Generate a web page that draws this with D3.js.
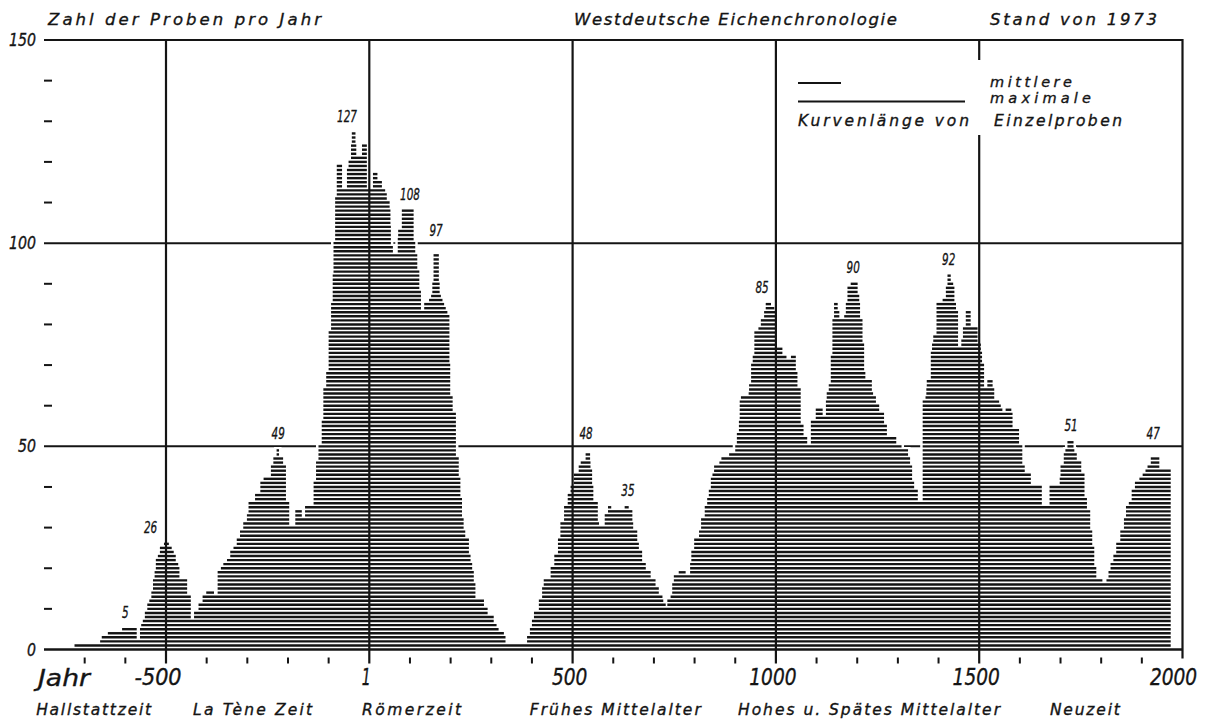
<!DOCTYPE html>
<html><head><meta charset="utf-8">
<script src="https://cdn.jsdelivr.net/npm/d3@7"></script>
<style>
body{margin:0;background:#fff}
svg{display:block}
text{font-family:'DejaVu Sans',sans-serif;font-style:italic;fill:#141414;stroke:#141414;stroke-width:0.35px}
</style>
</head><body>
<svg id="c" width="1209" height="720"></svg>
<script>
// ---- data: [start year, number of samples] steps ----
const hallstatt = [[-725,1],[-662,2],[-658,3],[-643,4],[-608,5],[-572,2],[-564,5],[-561,6],[-557,7],[-552,9],[-546,11],[-541,12],[-536,14],[-532,17],[-528,19],[-525,22],[-520,23],[-515,25],[-505,26],[-493,25],[-486,24],[-481,23],[-476,21],[-470,20],[-467,17],[-448,13],[-439,7]];
const laTene = [[-431,9],[-420,11],[-410,13],[-401,14],[-382,13],[-373,19],[-365,20],[-359,21],[-350,22],[-342,24],[-334,25],[-326,27],[-318,29],[-310,31],[-301,33],[-297,36],[-281,38],[-268,41],[-260,42],[-242,45],[-236,47],[-228,49],[-222,47],[-212,45],[-205,36],[-197,30],[-182,34],[-166,32]];
const roman = [[-158,35],[-137,41],[-131,46],[-125,50],[-117,56],[-113,64],[-106,68],[-100,78],[-94,85],[-90,92],[-88,100],[-84,111],[-80,119],[-67,113],[-55,118],[-51,120],[-45,124],[-43,127],[-34,124],[-32,121],[-18,124],[-6,113],[9,117],[20,115],[31,113],[39,112],[43,110],[50,108],[52,104],[53,99],[58,97],[70,101],[71,103],[80,108],[109,100],[113,97],[118,93],[123,88],[127,83],[135,85],[147,86],[152,87],[155,90],[158,97],[171,90],[173,87],[176,86],[180,85],[184,84],[188,83],[192,82],[197,70],[199,62],[205,58],[213,47],[220,42],[224,37],[228,32],[232,29],[236,27],[245,23],[249,21],[253,19],[257,16],[261,12],[282,10],[291,8],[306,6],[313,5],[318,4],[331,3],[335,1]];
const earlyMedieval = [[388,3],[395,5],[400,7],[405,9],[417,12],[425,15],[429,17],[446,20],[455,23],[464,27],[470,31],[479,35],[488,38],[495,40],[503,43],[515,45],[520,46],[532,48],[543,46],[544,44],[548,40],[551,36],[562,31],[565,30],[579,33],[587,35],[595,34],[628,35],[638,34],[647,31],[649,29],[659,26],[663,24],[671,21],[680,19],[692,17],[704,15],[712,13],[721,12],[723,11],[729,10]];
const highLateMedieval = [[733,12],[741,13],[745,16],[749,18],[761,19],[778,18],[789,21],[792,24],[799,27],[811,29],[816,32],[825,35],[831,37],[835,39],[840,42],[844,43],[848,45],[861,46],[866,47],[885,48],[900,50],[904,53],[909,56],[911,61],[914,62],[933,63],[934,65],[939,70],[943,72],[947,78],[957,79],[963,81],[971,83],[975,85],[988,84],[996,83],[1000,74],[1016,72],[1026,71],[1037,72],[1049,68],[1053,64],[1061,55],[1068,52],[1077,50],[1086,56],[1098,59],[1115,57],[1123,61],[1125,63],[1130,65],[1135,72],[1139,81],[1143,85],[1152,83],[1156,81],[1168,82],[1172,85],[1176,89],[1184,90],[1201,87],[1205,85],[1207,81],[1213,75],[1217,68],[1220,66],[1236,63],[1239,62],[1246,60],[1254,58],[1266,55],[1273,52],[1296,50],[1309,49],[1325,47],[1330,45],[1335,41],[1340,39],[1349,36],[1361,61],[1368,62],[1370,64],[1371,66],[1381,73],[1384,75],[1387,77],[1395,85],[1410,86],[1418,89],[1422,92],[1430,90],[1436,89],[1439,85],[1443,83],[1448,74],[1456,76],[1460,79],[1467,83],[1479,79],[1496,75],[1504,73],[1507,70],[1512,64],[1520,66],[1533,64],[1537,61],[1549,60],[1553,59],[1557,58],[1565,59],[1579,58],[1582,54],[1598,50],[1606,45],[1612,43],[1627,40],[1654,35]];
const modern = [[1673,40],[1698,42],[1700,45],[1708,48],[1712,49],[1717,51],[1732,49],[1734,48],[1740,46],[1751,43],[1759,37],[1765,34],[1773,29],[1778,25],[1783,20],[1788,17],[1803,16],[1813,17],[1818,19],[1823,21],[1830,23],[1837,26],[1847,29],[1856,32],[1861,35],[1868,36],[1875,39],[1883,41],[1894,42],[1902,43],[1909,44],[1914,45],[1922,47],[1943,44]];
const lastYear = 1971;

const peakYears  = [-600,-538,-224,-55,100,164,533,636,966,1190,1425,1726,1928];
const peakValues = [5,26,49,127,108,97,48,35,85,90,92,51,47];

const yMajor = [0,50,100,150];
const yMajorLabels = ["0","50","100","150"];
const yMinor = [10,20,30,40,60,70,80,90,110,120,130,140];
const xMajor = [-500,0,500,1000,1500,2000];
const xMajorLabels = ["-500","1","500","1000","1500","2000"];
const xMinor = [-700,-600,-400,-300,-200,-100,100,200,300,400,600,700,800,900,1100,1200,1300,1400,1600,1700,1800,1900];

const eraNames = ["Hallstattzeit","La Tène Zeit","Römerzeit","Frühes Mittelalter","Hohes u. Spätes Mittelalter","Neuzeit"];
const eraCenters = [-678,-287,104,605,1229,1760];

// ---- drawing ----
const svg = d3.select("#c");
const ink = "#141414";
const x = d3.scaleLinear().domain([-500,2000]).range([166,1182.5]);
const y = d3.scaleLinear().domain([0,150]).range([649.5,40]);
const left = 44;

const all = [...hallstatt,...laTene,...roman,...earlyMedieval,...highLateMedieval,...modern];
const steps = all.map((d,i)=>({a:d[0], b:i<all.length-1?all[i+1][0]:lastYear, c:d[1]}));
const maxC = d3.max(steps,d=>d.c);
const segs = [];
for(let k=1;k<=maxC;k++){
  let start=null;
  steps.forEach(s=>{
    if(s.c>=k){ if(start===null) start=s.a; }
    else if(start!==null){ segs.push({k,a:start,b:s.a}); start=null; }
  });
  if(start!==null) segs.push({k,a:start,b:lastYear});
}

// horizontal grid lines (0 drawn later)
svg.append("g").selectAll("line").data(yMajor.filter(v=>v>0)).join("line")
  .attr("x1",left).attr("x2",x(2000)).attr("y1",d=>y(d)).attr("y2",d=>y(d))
  .attr("stroke",ink).attr("stroke-width",2);

// white margin around the data mass
const areaPts = all.map(d=>({yr:d[0],c:d[1]})).concat([{yr:lastYear,c:0}]);
svg.append("path").datum(areaPts)
  .attr("d", d3.area().curve(d3.curveStepAfter).x(d=>x(d.yr)).y0(y(0)).y1(d=>y(d.c)-1))
  .attr("fill","#fff").attr("stroke","#fff").attr("stroke-width",5);

// hatching: one horizontal line per sample level
svg.append("g").selectAll("line").data(segs).join("line")
  .attr("x1",d=>x(d.a)).attr("x2",d=>x(d.b))
  .attr("y1",d=>y(d.k)).attr("y2",d=>y(d.k))
  .attr("stroke",ink).attr("stroke-width",2.4);

// base line
svg.append("line").attr("x1",left).attr("x2",x(2000)).attr("y1",y(0)).attr("y2",y(0))
  .attr("stroke",ink).attr("stroke-width",2.6);

// vertical grid lines
svg.append("g").selectAll("line").data(xMajor).join("line")
  .attr("x1",d=>x(d)).attr("x2",d=>x(d)).attr("y1",y(150)-1).attr("y2",d=>d===2000?y(0)+9:y(0)+14)
  .attr("stroke",ink).attr("stroke-width",2.2);
// break in the 1500 line behind the legend text
svg.append("rect").attr("x",x(1500)-5).attr("width",10).attr("y",60).attr("height",75).attr("fill","#fff");

// minor x ticks
svg.append("g").selectAll("line").data(xMinor).join("line")
  .attr("x1",d=>x(d)).attr("x2",d=>x(d)).attr("y1",y(0)+8).attr("y2",y(0)+14)
  .attr("stroke",ink).attr("stroke-width",2);
// minor y ticks
svg.append("g").selectAll("line").data(yMinor).join("line")
  .attr("x1",left).attr("x2",left+8).attr("y1",d=>y(d)).attr("y2",d=>y(d))
  .attr("stroke",ink).attr("stroke-width",2);

// y labels
svg.append("g").selectAll("text").data(yMajor).join("text")
  .attr("x",36).attr("y",d=>y(d)+6).attr("text-anchor","end")
  .attr("font-size",17).attr("textLength",(d,i)=>yMajorLabels[i].length*9)
  .attr("lengthAdjust","spacingAndGlyphs")
  .text((d,i)=>yMajorLabels[i]);

// x labels
svg.append("text").attr("x",38).attr("y",686).attr("font-size",23)
  .attr("textLength",52).attr("lengthAdjust","spacingAndGlyphs").text("Jahr");
svg.append("g").selectAll("text").data(xMajor).join("text")
  .attr("x",d=>x(d)-(d<0?8:(d===2000?9:3))).attr("y",685).attr("text-anchor","middle")
  .attr("font-size",23)
  .attr("textLength",(d,i)=>xMajorLabels[i].length===1?9:xMajorLabels[i].length*11.8)
  .attr("lengthAdjust","spacingAndGlyphs")
  .text((d,i)=>xMajorLabels[i]);

// era labels
const eraWidths = [115,119,99,171,262,70];
svg.append("g").selectAll("text").data(eraNames).join("text")
  .attr("x",(d,i)=>x(eraCenters[i])).attr("y",715).attr("text-anchor","middle")
  .attr("font-size",15.5).attr("textLength",(d,i)=>eraWidths[i]).attr("lengthAdjust","spacing")
  .text(d=>d);

// peak labels
function labelY(v){
  for(const g of yMajor){ if(g>0 && v<g && v>=g-6) return y(g)-7; }
  return y(v)-11;
}
svg.append("g").selectAll("text").data(peakValues).join("text")
  .attr("x",(d,i)=>x(peakYears[i])).attr("y",d=>labelY(d)).attr("text-anchor","middle")
  .attr("font-size",16).attr("textLength",d=>String(d).length*6.6)
  .attr("lengthAdjust","spacingAndGlyphs").text(d=>d);

// titles
const titles = [
  {t:"Zahl der Proben pro Jahr", x:48, w:273},
  {t:"Westdeutsche Eichenchronologie", x:574, w:323},
  {t:"Stand von 1973", x:990, w:167}
];
svg.append("g").selectAll("text").data(titles).join("text")
  .attr("x",d=>d.x).attr("y",25).attr("font-size",16.5)
  .attr("textLength",d=>d.w).attr("lengthAdjust","spacing").text(d=>d.t);

// legend
svg.append("line").attr("x1",798).attr("x2",841).attr("y1",83).attr("y2",83).attr("stroke",ink).attr("stroke-width",2.2);
svg.append("line").attr("x1",798).attr("x2",965).attr("y1",101.5).attr("y2",101.5).attr("stroke",ink).attr("stroke-width",2.2);
const legendTexts = [
  {t:"mittlere", x:990, y:87, w:82, s:14.5},
  {t:"maximale", x:990, y:103, w:101, s:14.5},
  {t:"Kurvenlänge von", x:798, y:126, w:171, s:15.5},
  {t:"Einzelproben", x:994, y:126, w:128, s:15.5}
];
svg.append("g").selectAll("text").data(legendTexts).join("text")
  .attr("x",d=>d.x).attr("y",d=>d.y).attr("font-size",d=>d.s)
  .attr("textLength",d=>d.w).attr("lengthAdjust","spacing").text(d=>d.t);
</script>
</body></html>
